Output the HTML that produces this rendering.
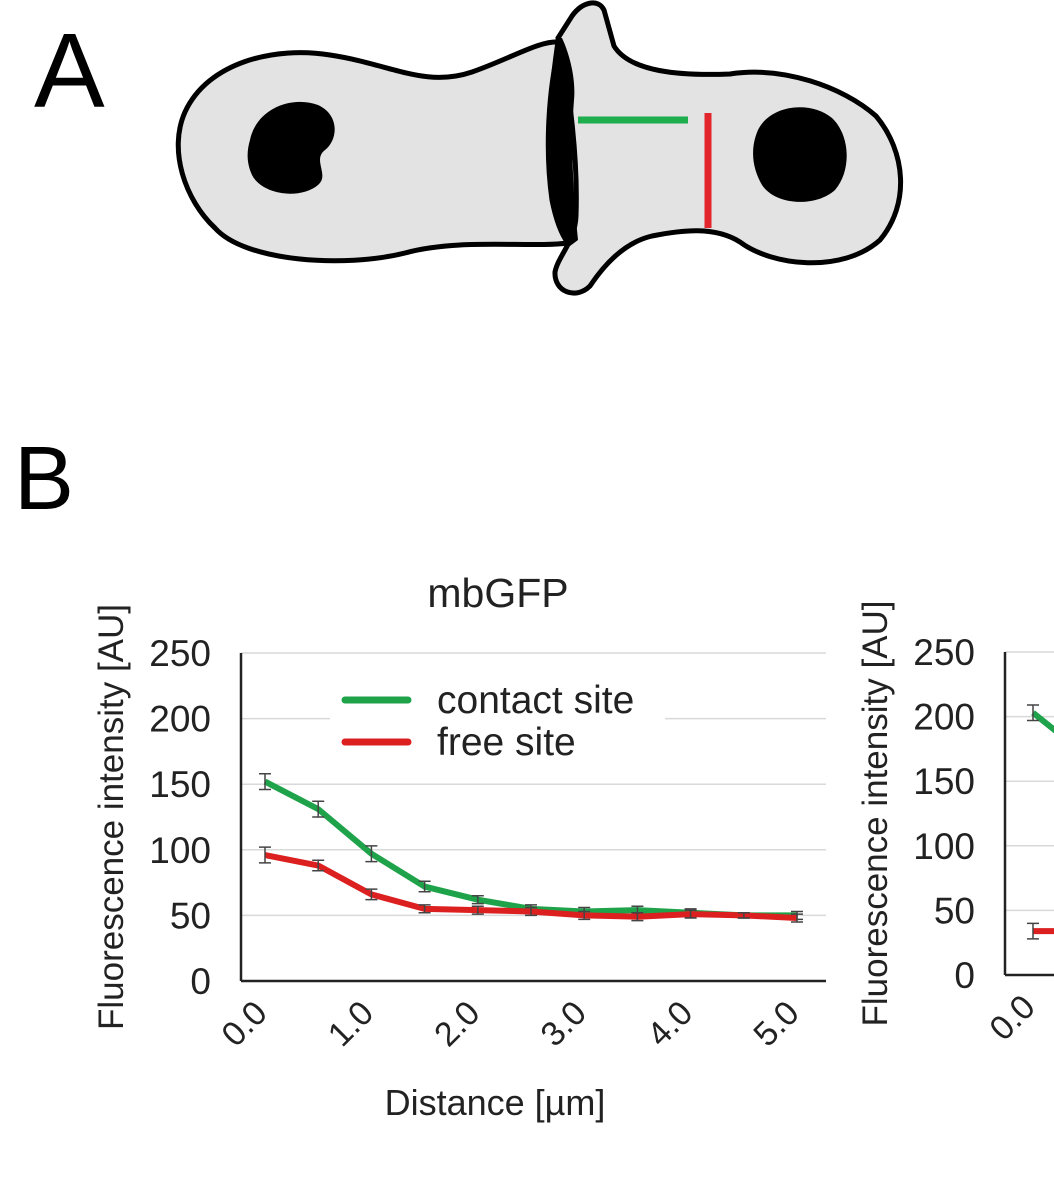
<!DOCTYPE html>
<html><head><meta charset="utf-8"><style>
html,body{margin:0;padding:0;background:#fff;}
svg{display:block;font-family:"Liberation Sans",Arial,sans-serif;}
</style></head><body>
<svg id="fig" width="1054" height="1198" viewBox="0 0 1054 1198">
<g>
<text x="34" y="107" font-size="106" fill="#000">A</text>
<path d="M568,243 C530,248 460,238 405,253 C345,268 245,262 215,228 C185,200 168,150 185,112 C208,62 275,46 330,55 C390,64 425,88 472,72 C512,58 540,40 560,42 C548,90 545,150 552,200 C556,220 562,235 568,243 Z" fill="#e3e3e3" stroke="#000" stroke-width="5"/>
<path d="M558,38 L572,16 C582,2 598,-2 604,10 L614,46 C630,72 680,76 730,74 C782,66 842,86 876,116 C906,152 910,204 880,240 C842,274 772,266 740,242 C715,226 682,230 652,236 C626,242 606,262 590,286 C576,300 554,292 555,272 C558,256 575,242 576,216 C578,160 570,90 558,38 Z" fill="#e3e3e3" stroke="#000" stroke-width="5"/>
<path d="M556,38 C548,90 544,150 552,200 C556,222 563,238 570,246 L578,240 C574,200 570,150 574,100 C576,80 570,55 562,38 Z" fill="#000"/>
<path d="M250,140 C256,110 290,95 318,105 C340,115 338,140 325,150 C312,160 330,175 318,185 C300,200 262,195 252,175 C246,162 247,150 250,140 Z" fill="#000"/>
<path d="M758,130 C770,105 810,100 832,118 C850,135 852,170 835,190 C815,208 775,205 762,185 C752,168 750,148 758,130 Z" fill="#000"/>
<line x1="578" y1="120" x2="688" y2="120" stroke="#1fae4d" stroke-width="7"/>
<line x1="708" y1="113" x2="708" y2="228" stroke="#e2262b" stroke-width="7"/>
</g>
<text x="14" y="509" font-size="90" fill="#000">B</text>
<g id="main"></g>
<g id="side"></g>
</svg>
<script>
const categories = ["0.0","0.5","1.0","1.5","2.0","2.5","3.0","3.5","4.0","4.5","5.0"];
const tickLabels = ["0.0","1.0","2.0","3.0","4.0","5.0"];
const yTicks = [0,50,100,150,200,250];
const contactValues = [152,131,97,72,62,55,53,54,52,50,50];
const contactErr = [6,6,6,4,3,3,3,3,3,2,3];
const freeValues = [96,88,66,55,54,53,50,49,51,50,48];
const freeErr = [6,4,4,3,3,3,3,3,3,2,3];
const side_contactValues = [203,170];
const side_freeValues = [34,34];
const NS="http://www.w3.org/2000/svg";
function mk(tag,attrs,parent,txt){const e=document.createElementNS(NS,tag);for(const k in attrs)e.setAttribute(k,attrs[k]);if(txt!==undefined)e.textContent=txt;parent.appendChild(e);return e;}

function drawChart(g,o){
  const y=v=>o.y0-(v/250)*(o.y0-o.y250);
  const x=i=>o.xFirst+i*o.step;
  yTicks.forEach(t=>{
    if(t>0){const gl=mk('line',{x1:o.ax,x2:o.axEnd,y1:y(t),y2:y(t),stroke:'#d9d9d9','stroke-width':1.5},g);
    
    }
    const tl=mk('text',{x:o.ax-30,y:y(t)+13,'font-size':37,'text-anchor':'end',fill:'#222'},g,String(t));
    
    
  });
  const xa=mk('line',{x1:o.ax,x2:o.axEnd,y1:o.y0,y2:o.y0,stroke:'#222','stroke-width':2.5},g);
  
  
  const ya=mk('line',{x1:o.ax,x2:o.ax,y1:o.y250,y2:o.y0,stroke:'#222','stroke-width':2.5},g);
  
  
  tickLabels.forEach(lbl=>{
    const i=categories.indexOf(lbl);
    const tx=x(i)+4, ty=o.y0+34;
    const t=mk('text',{x:tx,y:ty,'font-size':34,'text-anchor':'end',fill:'#222',transform:`rotate(-45 ${tx} ${ty})`},g,lbl);
    
    
  });
  const yt=mk('text',{x:0,y:0,'font-size':35,'text-anchor':'middle',fill:'#222',transform:`translate(${o.ax-118},${(o.y0+o.y250)/2}) rotate(-90)`},g,'Fluorescence intensity [AU]');
  
  
  const series=[[o.c,o.ce,'#1fa34a','contact-series'],[o.f,o.fe,'#dc1f1f','free-series']];
  series.forEach(([vals,errs,col,name])=>{
    const p=mk('polyline',{points:vals.map((v,i)=>x(i)+','+y(v)).join(' '),fill:'none',stroke:col,'stroke-width':6,'stroke-linejoin':'round'},g);
    
    
    vals.forEach((v,i)=>{
      const e=errs?errs[i]:6;
      const eb=mk('path',{d:`M${x(i)},${y(v+e)}V${y(v-e)}M${x(i)-6},${y(v+e)}h12M${x(i)-6},${y(v-e)}h12`,stroke:'#444','stroke-width':1.5,fill:'none'},g);
      
      
    });
  });
}
const main=document.getElementById('main');
drawChart(main,{ax:241,axEnd:826,y0:981,y250:653,xFirst:265,step:53.2,c:contactValues,ce:contactErr,f:freeValues,fe:freeErr});
const tt=mk('text',{x:498,y:607,'font-size':41,'text-anchor':'middle',fill:'#222'},main,'mbGFP');


const xt=mk('text',{x:495,y:1115,'font-size':36,'text-anchor':'middle',fill:'#222'},main,'Distance [µm]');


const lg=mk('rect',{x:330,y:672,width:335,height:92,fill:'#fff'},main);


[['contact site','#1fa34a',700],['free site','#dc1f1f',742]].forEach(([t,c,yy])=>{
  const l=mk('line',{x1:345,x2:408,y1:yy,y2:yy,stroke:c,'stroke-width':7,'stroke-linecap':'round'},main);
  
  
  const tx=mk('text',{x:437,y:yy+13,'font-size':39,fill:'#222'},main,t);
  
  
});
const side=document.getElementById('side');
drawChart(side,{ax:1005,axEnd:1200,y0:975,y250:652,xFirst:1033,step:53.2,c:side_contactValues,ce:null,f:side_freeValues,fe:null});
</script>
</body></html>
